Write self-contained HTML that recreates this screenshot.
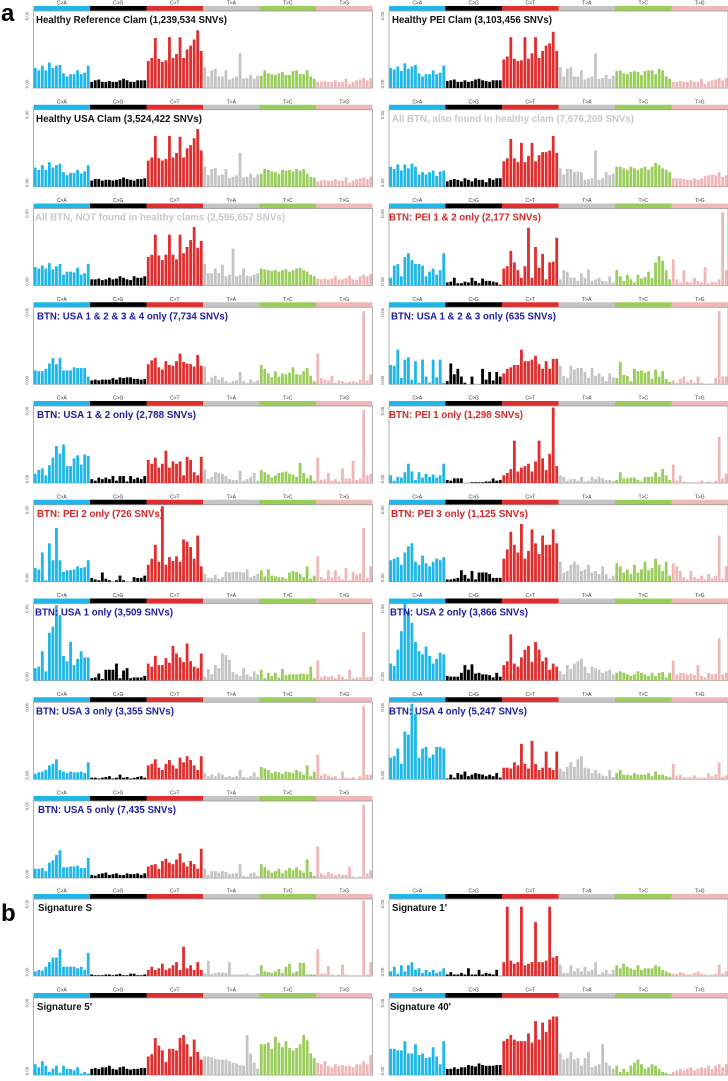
<!DOCTYPE html>
<html><head><meta charset="utf-8"><style>
html,body{margin:0;padding:0;background:#fff;}
svg{display:block;font-family:"Liberation Sans",Arial,sans-serif;}
</style></head><body>
<svg id="fig" width="728" height="1081" viewBox="0 0 728 1081" xmlns="http://www.w3.org/2000/svg">
<text x="1" y="21" font-size="24" font-weight="bold">a</text>
<text x="1" y="921" font-size="24" font-weight="bold">b</text>
</svg>
<script>
const categories = ["C>A","C>G","C>T","T>A","T>C","T>G"];
const catColors = ["#1fb7ea","#000000","#e02d2d","#c4c4c4","#9bcd5c","#eeb8b8"];
const yTickLabels = ["0.00","0.05"];

const healthyRef = [26,23,29,23,33,26,29,30,19,15,18,18,23,18,20,29, 8,10,11,8,8,9,8,8,10,12,10,8,8,10,10,10, 35,39,65,38,34,36,66,39,44,66,39,50,55,63,75,48, 27,15,23,25,15,15,23,11,13,15,45,12,13,17,12,16, 16,23,19,18,17,19,21,17,17,22,23,18,18,23,15,12, 8,8,9,8,8,10,8,8,12,5,8,10,11,13,10,13];
const healthyUSA = [25,22,28,22,32,25,28,30,19,15,18,18,22,17,20,28, 8,10,10,8,9,9,8,9,10,12,10,9,8,10,10,11, 34,38,66,37,34,36,66,38,44,65,38,50,54,63,75,47, 26,15,23,24,15,16,23,11,13,15,44,12,13,17,12,16, 17,23,22,20,19,17,22,21,22,20,23,21,23,17,13,12, 7,8,9,8,8,10,8,8,12,5,8,10,11,12,10,13];
const healthyPEI = [26,24,28,22,32,25,28,30,19,15,18,18,23,18,20,29, 9,10,11,8,8,10,8,9,11,12,10,9,8,10,10,10, 37,41,66,38,35,36,66,38,45,66,39,48,55,58,73,48, 27,15,25,27,15,15,23,11,13,15,45,12,13,17,12,16, 22,23,19,18,21,22,21,17,22,23,23,18,25,23,15,12, 8,8,9,8,8,10,8,8,12,5,8,10,11,13,10,13];
const alsoFound = [26,23,29,21,29,24,30,26,16,19,16,19,21,14,20,21, 7,9,10,9,7,11,9,7,11,9,9,6,11,9,11,11, 33,37,62,37,32,57,32,40,57,33,41,45,45,47,66,44, 24,16,23,23,19,20,19,9,10,11,47,9,11,19,15,17, 26,26,24,22,26,24,22,24,26,22,26,31,28,24,22,19, 11,11,11,10,9,9,11,9,11,14,15,16,15,19,13,15];
const notFound = [24,22,26,22,29,21,25,28,14,18,18,17,23,14,16,28, 8,8,9,7,8,10,8,9,12,10,8,7,12,10,10,12, 37,40,66,39,33,40,66,40,34,66,42,50,59,76,49,58, 28,16,16,22,16,27,12,14,48,12,14,22,13,12,14,16, 22,21,20,19,20,18,20,21,18,20,22,23,20,18,14,12, 9,8,9,8,9,12,8,8,10,13,8,7,12,14,12,15];
const pei12 = [10,26,28,12,37,42,33,28,28,26,12,18,22,14,20,42, 4,5,10,3,3,5,4,10,6,3,9,6,6,5,4,1, 22,25,45,30,20,10,25,75,10,50,23,41,8,30,31,62, 8,20,18,10,10,6,16,10,21,6,8,10,6,5,12,4, 20,12,6,14,8,4,14,9,11,18,10,30,38,32,20,8, 34,8,4,20,5,4,10,6,4,24,3,5,4,8,95,20];
const usa1234 = [18,17,17,20,27,34,26,34,18,18,18,22,21,21,21,10, 5,6,5,6,6,6,8,6,9,8,9,9,7,7,6,7, 26,31,34,22,19,30,25,24,30,40,29,27,26,23,38,24, 23,3,9,11,6,9,4,2,4,5,16,4,2,6,3,5, 25,20,14,9,17,10,14,13,15,22,13,12,17,21,11,4, 40,8,6,5,11,2,5,4,2,3,4,3,6,95,5,13];
const usa123 = [25,24,45,8,32,35,6,30,2,32,10,2,32,9,32,2, 4,27,13,20,10,2,0,10,0,0,20,6,16,5,16,10, 14,20,22,25,25,45,30,30,32,37,26,20,30,20,33,33, 24,11,8,24,19,21,21,16,8,21,11,14,10,4,14,9, 8,29,12,11,4,20,17,18,15,17,7,19,10,17,7,3, 5,2,7,10,3,6,2,10,2,0,1,1,8,95,10,10];
const usa12 = [12,17,19,10,23,33,48,38,50,22,22,32,36,24,37,35, 5,3,7,5,7,5,9,3,9,9,2,9,5,7,5,9, 30,25,33,20,25,42,20,28,25,28,10,34,30,14,10,34, 18,5,8,14,13,12,9,5,4,4,16,3,5,8,13,3, 17,14,11,7,10,13,14,15,12,11,8,26,13,6,10,3, 33,4,5,13,3,5,2,19,6,6,29,4,6,95,10,12];
const pei1 = [10,3,8,7,14,25,15,4,14,7,12,8,11,7,10,25, 4,3,6,6,6,0,0,1,1,1,1,2,2,6,3,4, 10,13,18,55,15,20,22,25,15,28,55,32,17,38,98,22, 10,8,3,5,5,3,8,2,3,8,5,8,6,4,4,3, 4,14,6,6,7,7,4,2,8,8,8,14,8,18,10,4, 24,3,10,2,0,1,0,1,3,0,2,0,3,60,6,12];
const pei2 = [18,16,38,2,50,28,70,28,13,15,15,16,20,18,19,28, 5,3,2,12,4,2,0,2,8,2,0,0,6,5,5,8, 22,30,48,26,98,22,32,27,33,26,55,52,45,30,60,20, 10,5,5,9,4,6,13,12,13,13,13,12,16,6,8,10, 15,7,16,8,7,6,6,4,12,14,13,10,6,20,4,8, 33,6,4,15,6,15,7,3,18,2,13,9,11,70,5,20];
const pei3 = [28,30,32,22,38,46,50,26,22,34,24,20,26,30,28,32, 3,3,4,5,15,9,4,14,3,12,12,12,10,5,5,5, 30,42,65,48,38,75,30,40,68,50,36,60,48,48,68,50, 26,12,14,22,26,22,14,16,22,12,14,10,20,10,4,8, 24,20,12,16,10,22,12,16,26,15,18,30,22,14,26,8, 24,20,14,6,3,14,6,4,8,3,10,5,8,60,4,20];
const usa1 = [16,18,38,12,62,70,98,85,32,25,50,20,28,38,30,30, 3,4,9,2,14,14,14,22,3,13,16,3,4,4,4,6, 22,18,32,20,20,29,23,45,35,30,24,48,25,18,16,35, 5,15,8,20,16,35,33,27,11,8,6,16,8,5,12,8, 14,3,10,6,10,4,15,7,8,8,8,9,9,8,18,3, 26,4,6,5,6,3,8,5,2,14,3,4,4,63,4,5];
const usa2 = [22,19,40,64,100,90,75,50,38,34,44,32,22,28,36,34, 6,5,5,5,10,20,14,21,9,10,8,8,7,4,10,5, 20,25,60,22,18,30,40,45,24,50,40,25,30,14,22,18, 12,8,20,15,22,25,28,18,10,18,16,14,10,12,14,8, 10,12,10,8,6,8,12,10,8,6,10,6,10,11,4,10, 26,8,10,10,8,9,7,20,6,4,10,8,9,55,8,10];
const usa3 = [7,9,10,12,18,20,26,12,10,8,10,9,9,10,8,22, 2,2,1,2,3,4,1,2,6,2,3,1,2,3,4,2, 18,20,26,15,12,20,25,18,14,28,22,30,25,18,12,30, 8,4,6,4,8,6,3,4,3,4,12,3,2,4,9,3, 16,14,12,8,10,9,7,10,9,8,12,10,6,18,4,10, 32,5,7,5,3,4,1,10,2,1,3,1,4,95,6,6];
const usa4 = [28,30,40,20,62,58,98,85,28,40,42,28,32,42,42,40, 1,6,2,8,6,10,4,6,8,7,6,4,6,4,8,2, 15,15,14,22,18,46,20,14,50,20,12,15,36,15,12,36, 14,10,16,22,16,26,30,15,14,8,12,8,5,4,12,3, 8,12,6,6,5,8,6,6,6,8,4,10,6,6,4,3, 20,4,6,3,2,3,5,2,2,2,8,4,6,22,3,5];
const usa5 = [12,12,13,9,20,23,30,36,14,14,15,15,16,13,13,26, 4,3,5,6,7,4,5,6,4,4,6,5,5,6,4,6, 15,17,18,12,22,25,20,18,24,32,20,15,22,18,12,38, 12,4,9,9,7,9,8,5,6,6,18,3,2,6,7,3, 18,14,10,7,9,12,6,10,13,10,14,10,7,24,8,3, 41,6,4,8,6,4,5,4,4,15,2,1,2,95,6,10];
const sigS = [6,8,7,12,18,24,24,35,12,12,12,12,10,12,8,30, 2,1,1,1,2,2,1,2,3,1,1,3,3,1,1,2, 8,12,8,10,16,8,10,14,18,8,38,10,14,8,18,8, 4,20,3,4,5,4,4,18,2,2,2,2,3,0,1,3, 14,6,5,4,6,9,4,12,16,4,6,17,17,2,2,2, 35,3,3,13,2,0,2,15,2,1,1,1,1,98,2,18];
const sig1 = [6,12,3,14,6,14,18,8,10,4,8,5,8,4,6,10, 2,5,2,2,4,2,10,2,2,8,2,4,3,2,8,0, 18,90,20,16,18,90,14,16,18,70,18,18,20,90,24,26, 15,4,4,14,6,10,6,12,6,8,18,2,5,8,3,8, 14,10,16,12,10,8,14,8,10,10,10,14,12,8,6,4, 3,3,5,4,2,2,4,6,3,2,1,2,3,15,3,6];
const sig5 = [14,10,18,12,4,8,12,3,12,8,8,6,10,2,4,2, 8,9,8,10,10,12,8,7,10,11,8,7,8,8,9,9, 24,27,48,38,32,17,34,34,32,48,52,40,24,46,30,20, 24,24,23,21,20,20,20,18,16,15,13,12,52,28,16,8, 40,40,42,34,50,42,36,44,35,32,35,40,52,45,28,22, 16,14,18,12,10,14,12,13,12,12,10,14,14,18,14,26];
const sig40 = [34,34,32,32,44,28,28,40,26,28,22,23,36,24,14,44, 8,8,10,8,10,10,13,12,11,15,13,12,12,12,13,13, 44,47,52,46,44,44,44,54,42,70,46,68,56,72,76,76, 28,20,22,30,20,22,12,22,30,10,12,14,40,16,12,8, 12,4,8,4,12,16,20,14,8,10,14,12,8,4,3,1, 4,6,8,6,8,10,6,8,10,9,12,8,12,14,10,14];

const panelTitles = ["Healthy Reference Clam (1,239,534 SNVs)","Healthy USA Clam  (3,524,422 SNVs)","All BTN, NOT found in healthy clams (2,596,657 SNVs)","BTN: USA 1 & 2 & 3 & 4 only (7,734 SNVs)","BTN: USA 1 & 2 only  (2,788 SNVs)","BTN: PEI 2 only (726 SNVs)","BTN: USA 1 only (3,509 SNVs)","BTN: USA 3 only (3,355 SNVs)","BTN: USA 5 only (7,435 SNVs)","Healthy PEI Clam (3,103,456 SNVs)","All BTN, also found in healthy clam (7,676,209 SNVs)","BTN: PEI 1 & 2 only (2,177 SNVs)","BTN: USA 1 & 2 & 3 only (635 SNVs)","BTN: PEI 1 only (1,298 SNVs)","BTN: PEI 3 only  (1,125 SNVs)","BTN: USA 2 only (3,866 SNVs)","BTN: USA 4 only (5,247 SNVs)","Signature S","Signature 1'","Signature 5'","Signature 40'"];
const panelSeries = [healthyRef,healthyUSA,notFound,usa1234,usa12,pei2,usa1,usa3,usa5,healthyPEI,alsoFound,pei12,usa123,pei1,pei3,usa2,usa4,sigS,sig1,sig5,sig40];

// layout (not data)
const BK="#111", GR="#c8c8c8", RD="#d42828", BL="#1c1ca0";
const layout = [
 [0,0,36,191,BK],[0,1,36,166,BK],[0,2,35,250,GR],[0,3,37,191,BL],[0,4,37,159,BL],[0,5,37,126,RD],[0,6,35,138,BL],[0,7,36,138,BL],[0,8,38,138,BL],
 [1,0,392,160,BK],[1,1,392,242,GR],[1,2,389,152,RD],[1,3,391,165,BL],[1,4,389,134,RD],[1,5,391,137,RD],[1,6,390,138,BL],[1,7,389,138,BL],
 [0,-1,38,54,BK],[1,-1,392,55,BK],[0,-2,37,55,BK],[1,-2,390,61,BK]
];
const NS="http://www.w3.org/2000/svg";
const svg=document.getElementById('fig');
const W=339, BOXH=77;
function mk(tag,attrs,parent){const e=document.createElementNS(NS,tag);for(const k in attrs)e.setAttribute(k,attrs[k]);(parent||svg).appendChild(e);return e;}
function rowTop(r){ if(r===-1) return 888; if(r===-2) return 987; return 98.75*r; }

panelSeries.forEach((vals,pi)=>{
  const L=layout[pi];
  const x0 = L[0]===0 ? 33.5 : 389;
  const T = rowTop(L[1]);
  const base = T+88;
  const xScale = i => x0 + i*(W/96);
  const yScale = v => base - v/100*BOXH;
  const g=mk('g',{});
  
  
  // strip
  categories.forEach((c,ci)=>{
    const r=mk('rect',{x:x0+ci*W/6,y:T+6,width:W/6,height:5,fill:catColors[ci]},g);
    
    
    const t=mk('text',{x:x0+ci*W/6+W/12,y:T+4.6,'font-size':5,'text-anchor':'middle',fill:'#333'},g);
    
    
    t.textContent=c;
  });
  const box=mk('rect',{x:x0,y:T+11,width:W,height:BOXH,fill:'none',stroke:'#9a9a9a','stroke-width':0.8},g);
  
  
  // y ticks
  yTickLabels.forEach((lab,k)=>{
    const yy = k===0 ? base-4 : T+16;
    const t=mk('text',{x:0,y:0,'font-size':4.5,'text-anchor':'middle',fill:'#666',transform:`translate(${x0-5},${yy}) rotate(-90)`},g);
    
    
    t.textContent=lab;
  });
  // bars
  vals.forEach((v,i)=>{
    const y=yScale(v);
    const b=mk('rect',{x:xScale(i)+0.35,y:y,width:2.8,height:Math.max(0,base-y),fill:catColors[Math.floor(i/16)]},g);
    
    
  });
  const tt=mk('text',{x:L[2],y:T+23,'font-size':10.5,'font-weight':'bold',fill:L[4],textLength:L[3],lengthAdjust:'spacingAndGlyphs'},g);
  
  
  tt.textContent=panelTitles[pi];
});
</script>
</body></html>
